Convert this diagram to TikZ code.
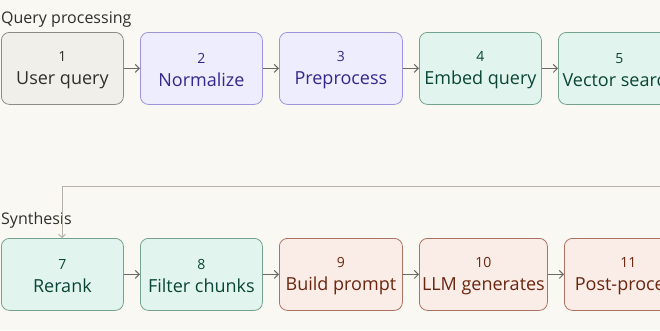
\documentclass[tikz,border=0pt]{standalone}
\usepackage{fontspec}
\setmainfont{Open Sans}
\usetikzlibrary{arrows.meta}
\definecolor{bgc}{HTML}{FAF8F3}
\definecolor{grayfill}{HTML}{F1EFEA}
\definecolor{graydraw}{HTML}{8C8B85}
\definecolor{graytext}{HTML}{2F2F2C}
\definecolor{purfill}{HTML}{EEEDFE}
\definecolor{purdraw}{HTML}{9D95D9}
\definecolor{purtext}{HTML}{33298A}
\definecolor{grnfill}{HTML}{E1F5EE}
\definecolor{grndraw}{HTML}{75A28E}
\definecolor{grntext}{HTML}{0B4535}
\definecolor{corfill}{HTML}{FAECE7}
\definecolor{cordraw}{HTML}{AD7161}
\definecolor{cortext}{HTML}{6A260F}
\definecolor{arrc}{HTML}{6B6A65}
\definecolor{loopc}{HTML}{B4B2A9}
\tikzset{
  stepbox/.style={draw, rounded corners=8pt, line width=0.8pt, minimum height=72pt, inner sep=0pt, align=center, anchor=north west, font=\fontsize{18}{23}\selectfont},
  gbox/.style={stepbox, fill=grayfill, draw=graydraw, text=graytext},
  pbox/.style={stepbox, fill=purfill, draw=purdraw, text=purtext},
  nbox/.style={stepbox, fill=grnfill, draw=grndraw, text=grntext},
  cbox/.style={stepbox, fill=corfill, draw=cordraw, text=cortext},
  flow/.style={draw=arrc, line width=1pt, -{Straight Barb[length=4pt,width=8pt]}},
  loopline/.style={draw=loopc, line width=1pt, -{Straight Barb[length=3pt,width=7pt]}},
  grouplabel/.style={anchor=west, text=graytext, font=\fontsize{16}{19}\selectfont, inner sep=0pt}
}
\newcommand{\stxt}[2]{\rule{0pt}{14pt}{\fontsize{14}{16}\selectfont #1}\\#2}
\begin{document}
\begin{tikzpicture}[x=1pt,y=-1pt]
\useasboundingbox (0,0) rectangle (660,330);
\fill[bgc] (0,0) rectangle (660,330);
\clip (0,0) rectangle (660,330);
\node[grouplabel] (g1) at (1,19.5) {Query processing};
\node[grouplabel] (g2) at (1,220.5) {Synthesis};
% row 1
\node[gbox, minimum width=122pt] (n1) at (1,32) {\stxt{1}{User query}};
\node[pbox, minimum width=122pt] (n2) at (140,32) {\stxt{2}{Normalize}};
\node[pbox, minimum width=123pt] (n3) at (279,32) {\stxt{3}{Preprocess}};
\node[nbox, minimum width=122pt] (n4) at (419,32) {\stxt{4}{Embed query}};
\node[nbox, minimum width=122pt] (n5) at (558,32) {\stxt{5}{Vector search}};
% row 2
\node[nbox, minimum width=122pt] (n7) at (1,238) {\stxt{7}{Rerank}};
\node[nbox, minimum width=122pt] (n8) at (140,238) {\stxt{8}{Filter chunks}};
\node[cbox, minimum width=123pt] (n9) at (279,238) {\stxt{9}{Build prompt}};
\node[cbox, minimum width=128pt] (n10) at (419,238) {\stxt{10}{LLM generates}};
\node[cbox, minimum width=128pt] (n11) at (564,238) {\stxt{11}{Post-process}};
\draw[flow] (n1.east) -- (n2.west);
\draw[flow] (n2.east) -- (n3.west);
\draw[flow] (n3.east) -- (n4.west);
\draw[flow] (n4.east) -- (n5.west);
\draw[flow] (n7.east) -- (n8.west);
\draw[flow] (n8.east) -- (n9.west);
\draw[flow] (n9.east) -- (n10.west);
\draw[flow] (n10.east) -- (n11.west);
\coordinate (loopstart) at (670,186.5);
\draw[loopline] (loopstart) -- (62,186.5) -- (n7.north -| 62,0);
\end{tikzpicture}
\end{document}
